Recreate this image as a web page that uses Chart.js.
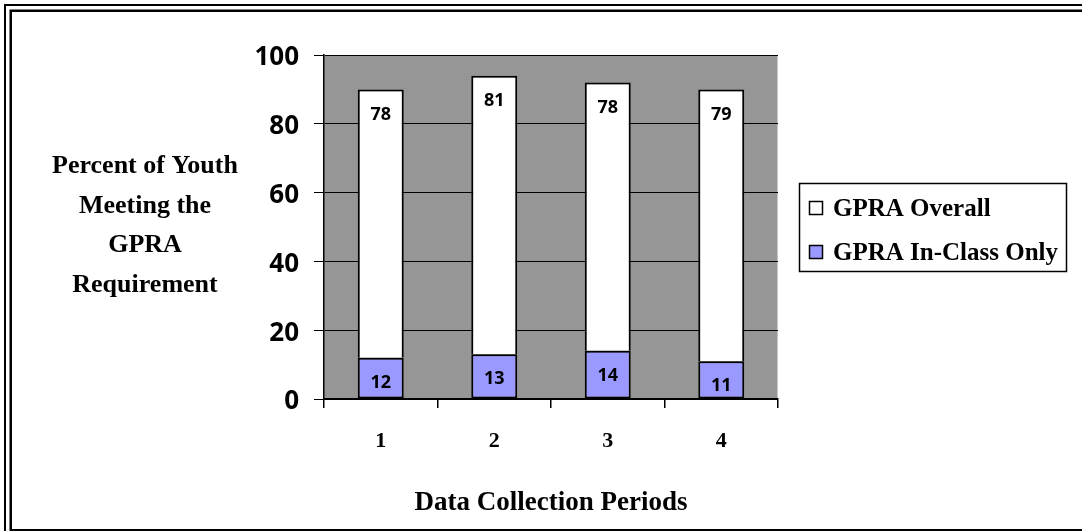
<!DOCTYPE html>
<html>
<head>
<meta charset="utf-8">
<script src="https://cdn.jsdelivr.net/npm/chart.js@4.4.1/dist/chart.umd.min.js"></script>
<style>
  html, body { margin: 0; padding: 0; background: #fff; }
  #wrap { width: 1082px; height: 531px; }
</style>
</head>
<body>
<div id="wrap"><canvas id="c" width="1082" height="531"></canvas></div>
<script>
// Data collection periods and the share of youth meeting the GPRA requirement
const periods = ['1', '2', '3', '4'];
const inClassOnly = [12, 13, 14, 11];
const overall = [78, 81, 78, 79];
const seriesNames = ['GPRA In-Class Only', 'GPRA Overall'];
const seriesColors = ['#9999FF', '#FFFFFF'];
const yTitleLines = ['Percent of Youth', 'Meeting the', 'GPRA', 'Requirement'];
const xTitle = 'Data Collection Periods';
const yMin = 0, yMax = 100, yStep = 20;

const serif = '"Liberation Serif", "Times New Roman", serif';
const sans = '"Open Sans", "DejaVu Sans", sans-serif';

// Gray plot background and double page frame
const framePlugin = {
  id: 'frame',
  beforeDraw(chart) {
    const { ctx, chartArea: a } = chart;
    ctx.save();
    ctx.fillStyle = '#fff';
    ctx.fillRect(0, 0, chart.width, chart.height);
    ctx.fillStyle = '#969696';
    ctx.fillRect(a.left, a.top, a.right - a.left, a.bottom - a.top);
    ctx.strokeStyle = '#c8c8c8';
    ctx.lineWidth = 1;
    ctx.beginPath();
    ctx.moveTo(a.right - 0.5, a.top);
    ctx.lineTo(a.right - 0.5, a.bottom);
    ctx.stroke();
    ctx.strokeStyle = '#000';
    ctx.lineWidth = 2;
    ctx.strokeRect(5, 5, chart.width + 20, chart.height + 20);
    ctx.lineWidth = 2.5;
    ctx.strokeRect(10.75, 10.75, chart.width + 20, chart.height - 11.5);
    ctx.restore();
  }
};

// Value labels near the top of each bar segment
const valueLabels = {
  id: 'valueLabels',
  afterDatasetsDraw(chart) {
    const { ctx } = chart;
    ctx.save();
    ctx.font = 'bold 18px ' + sans;
    ctx.fillStyle = '#000';
    ctx.textAlign = 'center';
    ctx.textBaseline = 'middle';
    chart.data.datasets.forEach((ds, i) => {
      chart.getDatasetMeta(i).data.forEach((bar, j) => {
        ctx.fillText(String(ds.data[j]), bar.x, bar.y + 25);
      });
    });
    ctx.restore();
  }
};

// Horizontal multi-line y-axis title and boxed legend on the right
const sideText = {
  id: 'sideText',
  afterDraw(chart) {
    const { ctx } = chart;
    ctx.save();
    ctx.fillStyle = '#000';
    ctx.font = 'bold 26px ' + serif;
    ctx.textAlign = 'center';
    ctx.textBaseline = 'alphabetic';
    yTitleLines.forEach((line, i) => {
      ctx.fillText(line, 145, 173 + i * 39.6);
    });

    // legend box
    ctx.strokeStyle = '#000';
    ctx.lineWidth = 1.5;
    ctx.strokeRect(799.5, 183.5, 267, 88);
    ctx.font = 'bold 25px ' + serif;
    ctx.textAlign = 'left';
    const order = chart.data.datasets.map((d, i) => i).reverse();
    order.forEach((idx, row) => {
      const ds = chart.data.datasets[idx];
      const y = 201 + row * 44;
      ctx.fillStyle = ds.backgroundColor;
      ctx.fillRect(809, y, 13, 13);
      ctx.lineWidth = 1.5;
      ctx.strokeRect(809.5, y + 0.5, 13, 13);
      ctx.fillStyle = '#000';
      ctx.fillText(ds.label, 833, y + 15);
    });
    ctx.restore();
  }
};

new Chart(document.getElementById('c'), {
  type: 'bar',
  data: {
    labels: periods,
    datasets: [
      {
        label: seriesNames[0],
        data: inClassOnly,
        backgroundColor: seriesColors[0],
        borderColor: '#000',
        borderWidth: 2,
        borderSkipped: false
      },
      {
        label: seriesNames[1],
        data: overall,
        backgroundColor: seriesColors[1],
        borderColor: '#000',
        borderWidth: 2,
        borderSkipped: 'start'
      }
    ]
  },
  options: {
    responsive: false,
    animation: false,
    events: [],
    layout: { padding: { left: 0, right: 304, top: 55, bottom: 0 } },
    datasets: { bar: { barPercentage: 0.405, categoryPercentage: 1 } },
    plugins: {
      legend: { display: false },
      tooltip: { enabled: false }
    },
    scales: {
      x: {
        stacked: true,
        afterFit(scale) { scale.height = 132; },
        grid: {
          offset: true,
          drawOnChartArea: false,
          color: '#000',
          tickLength: 9,
          lineWidth: 1.5
        },
        border: { display: true, color: '#000', width: 1.5 },
        ticks: {
          color: '#000',
          padding: 20,
          font: { family: serif, size: 22, weight: 'bold' }
        },
        title: {
          display: true,
          text: xTitle,
          color: '#000',
          font: { family: serif, size: 27, weight: 'bold' },
          padding: { top: 0, bottom: 12 }
        }
      },
      y: {
        stacked: true,
        min: yMin,
        max: yMax,
        afterFit(scale) { scale.width = 324; },
        grid: {
          color: '#000',
          lineWidth: 1,
          tickLength: 10
        },
        border: { display: true, color: '#000', width: 1.5 },
        ticks: {
          stepSize: yStep,
          color: '#000',
          padding: 15,
          labelOffset: 3,
          font: { family: sans, size: 26, weight: 'bold' }
        }
      }
    }
  },
  plugins: [framePlugin, valueLabels, sideText]
});
</script>
</body>
</html>
